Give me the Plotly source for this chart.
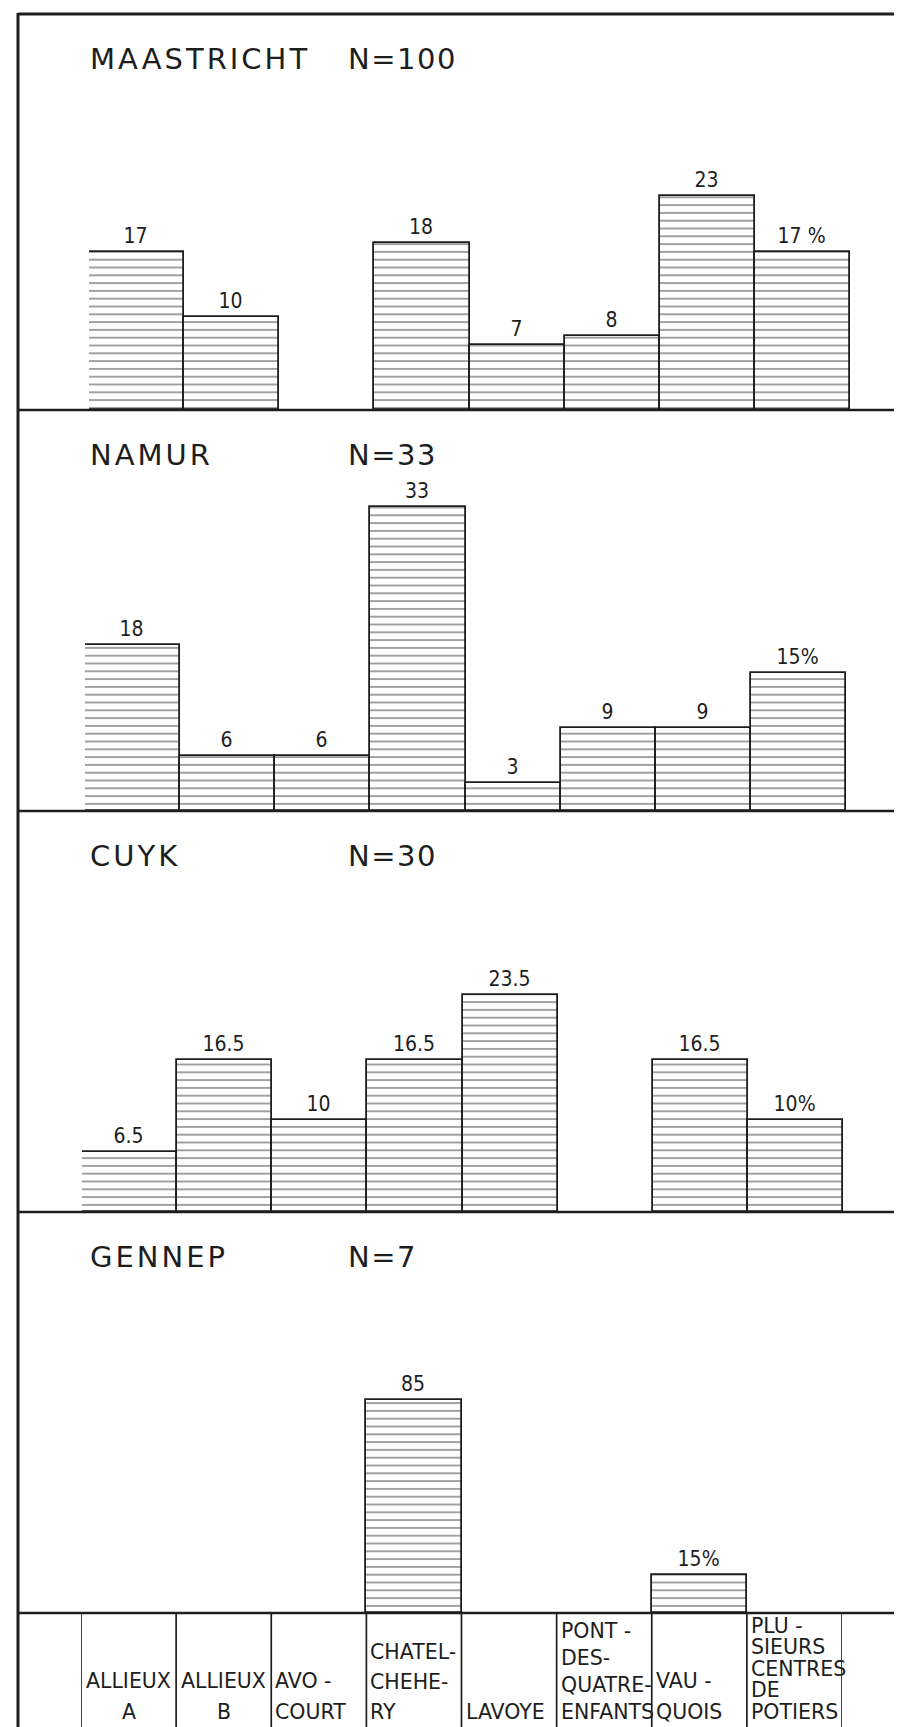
import plotly.graph_objects as go

# ---------------- data ----------------
categories = ["ALLIEUX A", "ALLIEUX B", "AVOCOURT", "CHATEL-CHEHERY", "LAVOYE",
              "PONT-DES-QUATRE-ENFANTS", "VAUQUOIS", "PLUSIEURS CENTRES DE POTIERS"]
label_lines = [["ALLIEUX", "A"], ["ALLIEUX", "B"], ["AVO -", "COURT"],
               ["CHATEL-", "CHEHE-", "RY"], ["LAVOYE"],
               ["PONT -", "DES-", "QUATRE-", "ENFANTS"], ["VAU -", "QUOIS"],
               ["PLU -", "SIEURS", "CENTRES", "DE", "POTIERS"]]
label_centered = [True, True, False, False, False, False, False, False]
sites = ["MAASTRICHT", "NAMUR", "CUYK", "GENNEP"]
n_counts = [100, 33, 30, 7]
maastricht = [17, 10, None, 18, 7, 8, 23, 17]
namur = [18, 6, 6, 33, 3, 9, 9, 15]
cuyk = [6.5, 16.5, 10, 16.5, 23.5, None, 16.5, 10]
gennep = [None, None, None, 85, None, None, 15, None]
panels = [maastricht, namur, cuyk, gennep]
pct_suffix = [" %", "%", "%", "%"]

# ---------------- layout geometry (pixels) ----------------
W, H = 902, 1727
INK = "#1e1e1e"
tops = [6, 402, 803, 1204]
bottoms = [402, 803, 1204, 1605]
x_left, x_right = 73, 834
x_offsets = [8, 4, 1, 0]
y_max = [42.6, 43.5, 43.5, 160.0]
label_pitch = [31, 31, 31, 30, 30, 27, 31, 21.5]
label_baseline = 1711


def py(p):
    return 1 - p / H


def px(p):
    return p / W


def fmt(v):
    if v is None:
        return ""
    return ("%g" % v)


fig = go.Figure()
layout = dict(width=W, height=H, margin=dict(l=0, r=0, t=0, b=0),
              paper_bgcolor="white", plot_bgcolor="white", showlegend=False,
              bargap=0)

annotations = []
shapes = []
for i, vals in enumerate(panels):
    ax = "" if i == 0 else str(i + 1)
    last = max(j for j, v in enumerate(vals) if v is not None)
    texts = [fmt(v) + (pct_suffix[i] if j == last else "") for j, v in enumerate(vals)]
    fig.add_trace(go.Bar(
        x=categories, y=vals, xaxis="x" + ax, yaxis="y" + ax, width=1,
        text=texts, textposition="outside", cliponaxis=False,
        textfont=dict(family="DejaVu Sans Condensed, DejaVu Sans", size=21, color=INK),
        marker=dict(color="white",
                    line=dict(color=INK, width=1.8),
                    pattern=dict(shape="-", fgcolor="#111111", bgcolor="white",
                                 size=7.8, solidity=0.2)),
        hoverinfo="skip"))
    layout["xaxis" + ax] = dict(domain=[px(x_left + x_offsets[i]), px(x_right + x_offsets[i])],
                                anchor="y" + ax, visible=False, type="category",
                                range=[-0.5, 7.5], fixedrange=True)
    layout["yaxis" + ax] = dict(domain=[py(bottoms[i]), py(tops[i])], anchor="x" + ax,
                                visible=False, range=[0, y_max[i]], fixedrange=True)
    # panel titles
    tsize = 29
    yb = tops[i] + 55 - 0.36 * tsize
    annotations.append(dict(xref="paper", yref="paper", x=px(80), y=py(yb),
                            xanchor="left", yanchor="middle", showarrow=False,
                            text='<span style="letter-spacing:3px">%s</span>' % sites[i],
                            font=dict(family="DejaVu Sans", size=tsize, color=INK)))
    annotations.append(dict(xref="paper", yref="paper", x=px(338), y=py(yb),
                            xanchor="left", yanchor="middle", showarrow=False,
                            text='<span style="letter-spacing:1.5px">N=%d</span>' % n_counts[i],
                            font=dict(family="DejaVu Sans", size=tsize, color=INK)))

# label row axis (pixel coordinates vertically)
layout["xaxis5"] = dict(domain=[px(x_left), px(x_right)], anchor="y5", visible=False,
                        range=[-0.5, 7.5], fixedrange=True)
layout["yaxis5"] = dict(domain=[0, py(bottoms[-1])], anchor="x5", visible=False,
                        range=[H, bottoms[-1]], fixedrange=True)
fig.add_trace(go.Scatter(x=[None], y=[None], xaxis="x5", yaxis="y5", hoverinfo="skip"))

lsize = 20.5
for j, lines in enumerate(label_lines):
    n = len(lines)
    for k, line in enumerate(lines):
        base = label_baseline - (n - 1 - k) * label_pitch[j]
        if label_centered[j]:
            a = dict(x=j, xanchor="center", xshift=0)
        else:
            a = dict(x=j - 0.5, xanchor="left", xshift=2)
        a.update(xref="x5", yref="y5", y=base - 0.36 * lsize, yanchor="middle",
                 showarrow=False, text=line,
                 font=dict(family="DejaVu Sans", size=lsize, color=INK))
        annotations.append(a)

# column separators in the label row
for j in range(len(categories) + 1):
    shapes.append(dict(type="line", xref="x5", yref="y5", x0=j - 0.5, x1=j - 0.5,
                       y0=bottoms[-1], y1=H, line=dict(color=INK, width=1.7)))

# frame and panel separators
shapes.append(dict(type="line", xref="paper", yref="paper", x0=px(10), x1=1,
                   y0=py(6), y1=py(6), line=dict(color=INK, width=3)))
shapes.append(dict(type="line", xref="paper", yref="paper", x0=px(10), x1=px(10),
                   y0=py(5), y1=0, line=dict(color=INK, width=3)))
for b in bottoms:
    shapes.append(dict(type="line", xref="paper", yref="paper", x0=px(10), x1=1,
                       y0=py(b), y1=py(b), line=dict(color=INK, width=2.6)))

layout["annotations"] = annotations
layout["shapes"] = shapes
fig.update_layout(**layout)
fig.write_html("out.html")
